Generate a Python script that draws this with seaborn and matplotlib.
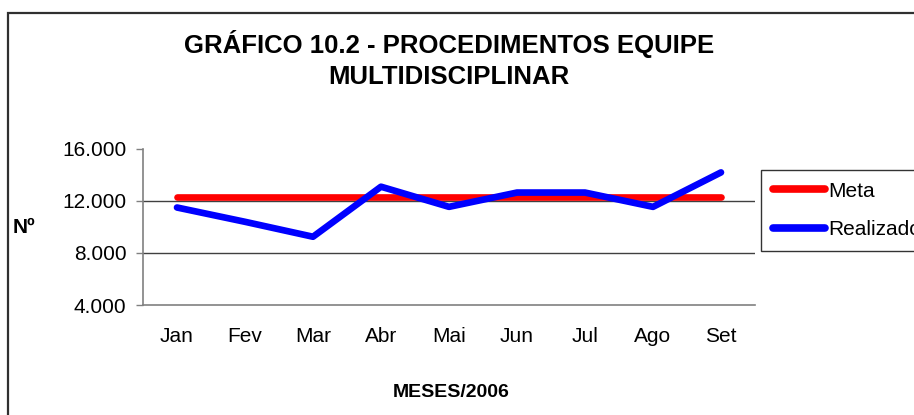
import pandas as pd
import seaborn as sns
import numpy as np
import matplotlib.pyplot as plt
from matplotlib.patches import Rectangle
from matplotlib.ticker import FuncFormatter


months = ["Jan", "Fev", "Mar", "Abr", "Mai", "Jun", "Jul", "Ago", "Set"]
meta = [12300] * 9
realizado = [11500, 10400, 9250, 13100, 11550, 12650, 12650, 11550, 14200]
y_ticks = [4000, 8000, 12000, 16000]

df = pd.DataFrame({
    "mes": months * 2,
    "valor": meta + realizado,
    "serie": ["Meta"] * 9 + ["Realizado"] * 9,
})
df["pos"] = list(range(9)) * 2

sns.set_style("white")
plt.rcParams['font.family'] = ['Liberation Sans', 'DejaVu Sans']
plt.rcParams['text.color'] = 'black'
plt.rcParams['axes.labelcolor'] = 'black'

fig = plt.figure(figsize=(9.14, 4.15), dpi=100)
ax = fig.add_axes([143/914, 1-305/415, 612/914, 156/415])

sns.lineplot(data=df, x="pos", y="valor", hue="serie", palette=["#ff0000", "#0000ff"],
             linewidth=4.8, ax=ax, solid_capstyle="round", legend=True)

ax.set_xlim(-0.5, 8.5)
ax.set_ylim(4000, 16000)
ax.set_yticks(y_ticks)
ax.yaxis.set_major_formatter(FuncFormatter(lambda v, p: f"{int(v):,}".replace(",", ".")))
ax.set_xticks(range(9))
ax.set_xticklabels(months)
ax.set_xticks(np.arange(-0.5, 9, 1), minor=True)
ax.tick_params(axis="x", which="major", length=0, pad=16, labelsize=15, labelcolor="black")
ax.tick_params(axis="x", which="minor", length=5, width=1, color="#808080", direction="out")
ax.tick_params(axis="y", length=5, width=1, color="#808080", direction="out", pad=7,
               labelsize=15, labelcolor="black", left=True)

ax.grid(axis="y", color="#404040", linewidth=1)
ax.get_ygridlines()[-1].set_visible(False)
ax.get_ygridlines()[0].set_visible(False)

for s in ["top", "right"]:
    ax.spines[s].set_visible(False)
for s in ["left", "bottom"]:
    ax.spines[s].set_color("#808080")
    ax.spines[s].set_linewidth(1.2)

ax.set_ylabel("Nº", rotation=0, fontsize=15, fontweight="bold", ha="center", va="center")
ax.yaxis.set_label_coords(-0.194, 0.5)
ax.set_xlabel("MESES/2006", fontsize=14, fontweight="bold")
ax.xaxis.set_label_coords((451-143)/612, -(392-305)/156)
ax.xaxis.label.set_va("center")

leg = ax.legend(loc="upper left", bbox_to_anchor=(1.01, 0.865), frameon=True, fancybox=False,
                fontsize=15, handlelength=2.5, handletextpad=0.15, borderpad=0.55,
                labelspacing=0.95, borderaxespad=0)
leg.get_frame().set_edgecolor("black")
leg.get_frame().set_linewidth(1)
for h in leg.get_lines():
    h.set_linewidth(5.5)

fig.text(449/914, 1-44/415, "GRÁFICO 10.2 - PROCEDIMENTOS EQUIPE", ha="center", va="center",
         fontsize=18.5, fontweight="bold")
fig.text(449/914, 1-77/415, "MULTIDISCIPLINAR", ha="center", va="center",
         fontsize=18.5, fontweight="bold")

fig.patches.append(Rectangle((8/914, -0.1), 1.2, 1.1 - 13/415, transform=fig.transFigure,
                             fill=False, edgecolor="#303030", linewidth=1.6))

plt.savefig("out.png", dpi=100)
